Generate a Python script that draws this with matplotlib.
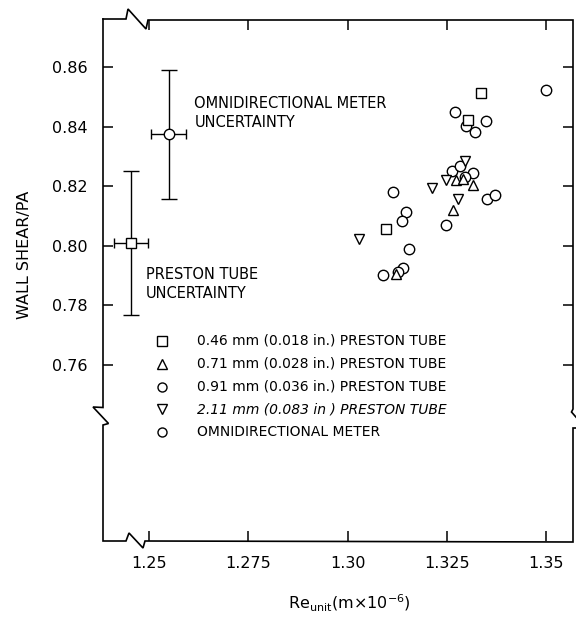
import matplotlib as mpl
mpl.use("Agg")
import matplotlib.pyplot as plt

mpl.rcParams.update({
    "font.family": "DejaVu Sans", "font.size": 10,
    "mathtext.fontset": "dejavusans",
})

# ---------- data ----------
sq_x = [1.3336, 1.3304, 1.3097]
sq_y = [0.8514, 0.8422, 0.8054]

tri_up_x = [1.3273, 1.3292, 1.3315, 1.3266, 1.3122]
tri_up_y = [0.8220, 0.8223, 0.8203, 0.8119, 0.7904]

circ_x = [1.3500, 1.3271, 1.3298, 1.3321, 1.3349, 1.3262, 1.3284, 1.3317,
          1.3352, 1.3372, 1.3248, 1.3114, 1.3147, 1.3137, 1.3156, 1.3090,
          1.3139, 1.3127, 1.3296]
circ_y = [0.8523, 0.8448, 0.8402, 0.8382, 0.8420, 0.8251, 0.8268, 0.8245,
          0.8156, 0.8170, 0.8069, 0.8181, 0.8114, 0.8083, 0.7987, 0.7901,
          0.7925, 0.7911, 0.8230]

tri_dn_x = [1.3029, 1.3212, 1.3247, 1.3296, 1.3279]
tri_dn_y = [0.8021, 0.8192, 0.8220, 0.8284, 0.8156]

# uncertainty bars: (x, y, xerr, yerr)
omni_unc = (1.2550, 0.8374, 0.0044, 0.0217)
prest_unc = (1.2454, 0.8008, 0.0043, 0.0242)

xticks = [1.25, 1.275, 1.30, 1.325, 1.35]
xticklabels = ["1.25", "1.275", "1.30", "1.325", "1.35"]
yticks = [0.76, 0.78, 0.80, 0.82, 0.84, 0.86]
yticklabels = ["0.76", "0.78", "0.80", "0.82", "0.84", "0.86"]

legend_marks = ["s", "^", "o", "v", "o"]
legend_labels = ["0.46 mm (0.018 in.) PRESTON TUBE",
                 "0.71 mm (0.028 in.) PRESTON TUBE",
                 "0.91 mm (0.036 in.) PRESTON TUBE",
                 "2.11 mm (0.083 in ) PRESTON TUBE",
                 "OMNIDIRECTIONAL METER"]
legend_styles = ["normal", "normal", "normal", "italic", "normal"]

# ---------- figure ----------
W, H = 576, 617
L, R, T, B = 103, 573, 20, 541          # axes frame in pixels
fig = plt.figure(figsize=(W / 100, H / 100), dpi=100)
ax = fig.add_axes([L / W, 1 - B / H, (R - L) / W, (B - T) / H])
ax.set_xlim(1.2384, 1.3568)
ax.set_ylim(0.7007, 0.8758)

mk = dict(ls="none", mfc="white", mec="black", mew=1.0, ms=7.5, zorder=3)
ax.plot(circ_x, circ_y, marker="o", **mk)
ax.plot(sq_x, sq_y, marker="s", **{**mk, "ms": 7})
ax.plot(tri_up_x, tri_up_y, marker="^", **mk)
ax.plot(tri_dn_x, tri_dn_y, marker="v", **mk)

# uncertainty bars
for (x, y, xe, ye), m in [(omni_unc, "o"), (prest_unc, "s")]:
    ax.errorbar(x, y, yerr=ye, fmt="none", ecolor="black", elinewidth=1.0,
                capsize=6, capthick=1.0, zorder=2)
    ax.errorbar(x, y, xerr=xe, fmt="none", ecolor="black", elinewidth=1.0,
                capsize=3.5, capthick=1.0, zorder=2)
    ax.plot(x, y, marker=m, **{**mk, "zorder": 4})

ax.text(1.2614, 0.8445, "OMNIDIRECTIONAL METER\nUNCERTAINTY", fontsize=10.5,
        va="center", ha="left", linespacing=1.3)
ax.text(1.2492, 0.7870, "PRESTON TUBE\nUNCERTAINTY", fontsize=10.5,
        va="center", ha="left", linespacing=1.3)

# legend drawn by hand (marker column + text column)
def fx(px):
    return (px - L) / (R - L)


def fy(py):
    return (B - py) / (B - T)


for i, (m, lab, st) in enumerate(zip(legend_marks, legend_labels, legend_styles)):
    yy = fy(341 + i * 22.8)
    ax.plot(fx(162), yy, marker=m, transform=ax.transAxes, ls="none",
            mfc="white", mec="black", mew=1.0, ms=6.5, clip_on=False)
    ax.text(fx(197), yy, lab, transform=ax.transAxes, fontsize=10,
            va="center", ha="left", style=st)

# ticks on all four sides, pointing in
ax.set_xticks(xticks)
ax.set_xticklabels(xticklabels)
ax.set_yticks(yticks)
ax.set_yticklabels(yticklabels)
ax.tick_params(direction="in", length=7, width=1.1, top=True, right=True,
               labelsize=11.5, pad=11)

# frame with broken-axis marks
for s in ax.spines.values():
    s.set_visible(False)
frame = [
    [(L, 19), (126, 19), (128, 9), (146, 29), (148, 20), (R, 20), (R, 409),
     (571.5, 412), (582, 424)],
    [(577, 428), (R, 428), (R, B + 1), (145, B), (143, 548), (129, 533),
     (126, B), (L, B), (L, 425), (108.5, 423.5), (93, 407), (L, 407.5),
     (L, 19)],
]
for seg in frame:
    ax.plot([fx(p[0]) for p in seg], [fy(p[1]) for p in seg],
            transform=ax.transAxes, color="black", lw=1.2, clip_on=False,
            solid_joinstyle="miter")

fig.text(25 / W, 1 - 255 / H, "WALL SHEAR/PA", rotation=90, fontsize=11.5,
         ha="center", va="center")
fig.text(349 / W, 1 - 603 / H, r"Re$_{\mathrm{unit}}$(m$\times$10$^{-6}$)",
         fontsize=11.5, ha="center", va="center")

fig.savefig("out.png", dpi=100)
